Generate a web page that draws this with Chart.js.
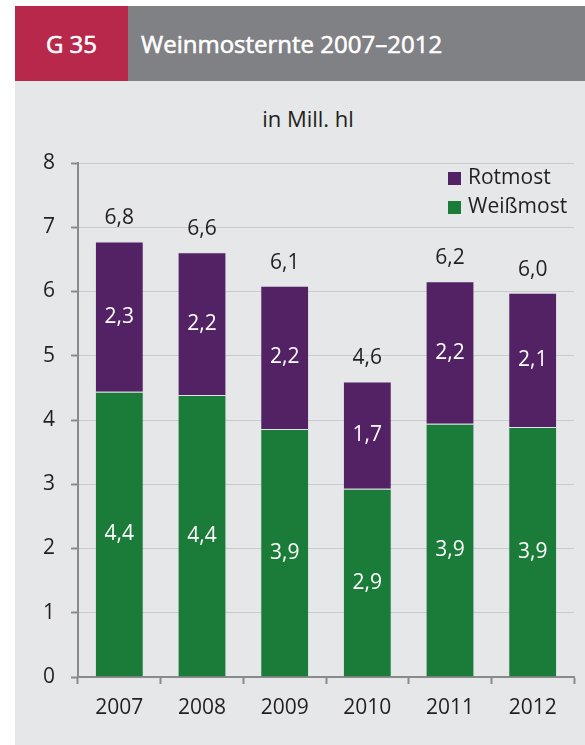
<!DOCTYPE html>
<html lang="de">
<head>
<meta charset="utf-8">
<title>G 35 Weinmosternte 2007–2012</title>
<script src="https://cdn.jsdelivr.net/npm/chart.js@4.4.1/dist/chart.umd.min.js"></script>
<style>
  html, body { margin: 0; padding: 0; background: #fff; }
  body { width: 585px; height: 745px; position: relative; overflow: hidden; font-family: 'Open Sans', sans-serif; }
  .head-num { position: absolute; left: 15px; top: 6px; width: 113px; height: 75px; background: #b8284b;
    color: #fff; font-size: 24px; line-height: 75px; text-align: center; -webkit-text-stroke: 0.6px #fff; }
  .head-title { position: absolute; left: 128px; top: 6px; width: 457px; height: 75px; background: #808185;
    color: #fff; font-size: 24px; line-height: 75px; padding-left: 13px; box-sizing: border-box; -webkit-text-stroke: 0.6px #fff; }
  .panel { position: absolute; left: 15px; top: 81px; width: 570px; height: 664px; background: #e6e7e9; }
  .unit { position: absolute; left: 0; top: 103px; width: 616px; text-align: center; font-size: 22px; color: #231f20; }
  #chart { position: absolute; left: 15px; top: 81px; }
</style>
</head>
<body>
<div class="head-num">G 35</div>
<div class="head-title">Weinmosternte 2007–2012</div>
<div class="panel"></div>
<div class="unit">in Mill. hl</div>
<canvas id="chart" width="570" height="664"></canvas>
<script>
// values (Mill. hl)
const years = ['2007', '2008', '2009', '2010', '2011', '2012']
const weissmost = [4.44, 4.39, 3.86, 2.93, 3.94, 3.89]
const rotmost = [2.34, 2.22, 2.23, 1.67, 2.22, 2.09]
const yTicks = [0, 1, 2, 3, 4, 5, 6, 7, 8]

const GREEN = '#1b7c39'
const PURPLE = '#532264'
const TEXT = '#231f20'

Chart.defaults.font.family = "'Open Sans', sans-serif"
Chart.defaults.font.size = 21
Chart.defaults.color = TEXT

const fmt = v => v.toFixed(1).replace('.', ',')

// white numbers in the segments, dark totals above the bars
const labelPlugin = {
  id: 'labels',
  afterDatasetsDraw(chart) {
    const ctx = chart.ctx
    ctx.save()
    ctx.font = "21px 'Open Sans', sans-serif"
    ctx.textAlign = 'center'
    ctx.textBaseline = 'middle'
    ctx.fillStyle = '#fff'
    chart.data.datasets.forEach((ds, i) => {
      chart.getDatasetMeta(i).data.forEach((bar, j) => {
        ctx.fillText(fmt(ds.data[j]), bar.x, (bar.y + bar.base) / 2)
      })
    })
    ctx.fillStyle = TEXT
    ctx.textBaseline = 'alphabetic'
    const top = chart.getDatasetMeta(1).data
    years.forEach((y, j) => {
      ctx.fillText(fmt(weissmost[j] + rotmost[j]), top[j].x, top[j].y - 17)
    })
    ctx.restore()
  }
}

// legend in the top right corner of the plot
const legendPlugin = {
  id: 'cornerLegend',
  afterDraw(chart) {
    const ctx = chart.ctx
    const a = chart.chartArea
    const items = [...chart.data.datasets].reverse()
    ctx.save()
    ctx.font = "21px 'Open Sans', sans-serif"
    ctx.textBaseline = 'middle'
    ctx.textAlign = 'left'
    items.forEach((ds, i) => {
      const y = a.top + 9 + i * 29
      ctx.fillStyle = ds.backgroundColor
      ctx.fillRect(a.right - 126, y, 13, 13)
      ctx.fillStyle = TEXT
      ctx.fillText(ds.label, a.right - 106, y + 6)
    })
    ctx.restore()
  }
}

new Chart(document.getElementById('chart'), {
  type: 'bar',
  data: {
    labels: years,
    datasets: [
      { label: 'Weißmost', data: weissmost, backgroundColor: GREEN,
        borderColor: 'rgba(210,210,225,0.25)', borderWidth: 1 },
      { label: 'Rotmost', data: rotmost, backgroundColor: PURPLE,
        borderColor: 'rgba(210,210,225,0.25)', borderWidth: 1 }
    ]
  },
  options: {
    responsive: false,
    animation: false,
    layout: { padding: { top: 82, right: 11, left: 0, bottom: 0 } },
    datasets: { bar: { barPercentage: 0.59, categoryPercentage: 1 } },
    plugins: { legend: { display: false }, tooltip: { enabled: false } },
    scales: {
      x: {
        stacked: true,
        afterFit: s => { s.height = 68 },
        grid: {
          drawOnChartArea: true,
          color: c => c.index === years.length ? '#cfd0d2' : 'rgba(0,0,0,0)',
          tickColor: '#8a8a8c',
          tickLength: 7,
          tickWidth: 2
        },
        border: { color: '#8a8a8c', width: 2 },
        ticks: { padding: 11, color: TEXT }
      },
      y: {
        stacked: true,
        min: 0,
        max: yTicks[yTicks.length - 1],
        afterFit: s => { s.width = 63 },
        afterBuildTicks: s => { s.ticks = yTicks.map(v => ({ value: v })) },
        grid: { color: '#c9cacc', lineWidth: 1, tickColor: '#8a8a8c', tickLength: 7, tickWidth: 2 },
        border: { color: '#8a8a8c', width: 2 },
        ticks: { padding: 16, color: TEXT }
      }
    }
  },
  plugins: [labelPlugin, legendPlugin]
})
</script>
</body>
</html>
